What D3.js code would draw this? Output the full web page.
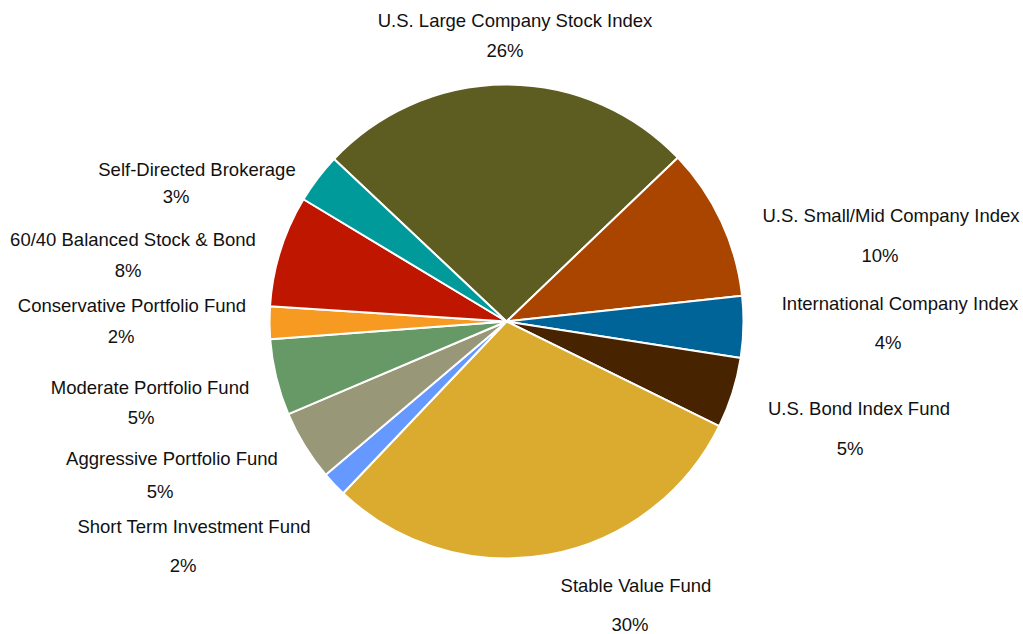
<!DOCTYPE html>
<html>
<head>
<meta charset="utf-8">
<script src="https://cdn.jsdelivr.net/npm/d3@7"></script>
<style>
  html, body { margin: 0; padding: 0; background: #fff; }
  svg { display: block; }
  text { font-family: "Liberation Sans", Arial, sans-serif; font-size: 18.5px; fill: #111; }
</style>
</head>
<body>
<svg id="chart" width="1023" height="634"></svg>
<script>
// Fund allocation, in percent, clockwise from the first slice
const funds = [
  "U.S. Large Company Stock Index",
  "U.S. Small/Mid Company Index",
  "International Company Index",
  "U.S. Bond Index Fund",
  "Stable Value Fund",
  "Short Term Investment Fund",
  "Aggressive Portfolio Fund",
  "Moderate Portfolio Fund",
  "Conservative Portfolio Fund",
  "60/40 Balanced Stock & Bond",
  "Self-Directed Brokerage"
];
const allocation = [25.8, 10.4, 4.2, 4.8, 29.8, 1.7, 4.8, 5.2, 2.2, 7.6, 3.4];
const fundColors = [
  "#5d5c21", "#aa4500", "#006498", "#472300", "#dbab2f",
  "#6699ff", "#989777", "#669966", "#f79a22", "#bf1600", "#009a9a"
];

// Label anchors: [name x, name baseline, percent x, percent baseline]
const labelLayout = [
  [515, 27, 505, 57],
  [891, 222, 880, 262],
  [900, 310, 888, 349],
  [859, 415, 850, 455],
  [636, 592, 630, 631],
  [194, 533, 183, 572],
  [172, 465, 160, 498],
  [150, 394, 141, 424],
  [132, 312, 121, 343],
  [133, 246, 128, 277],
  [197, 176, 176, 203]
];

const svg = d3.select("#chart");
const cx = 506.5, cy = 321.5, radius = 237;
const start = -46.7 * Math.PI / 180;

const total = d3.sum(allocation);
const pie = d3.pie().sort(null).value(d => d).startAngle(start).endAngle(start + 2 * Math.PI);
const arc = d3.arc().innerRadius(0).outerRadius(radius);
const color = d3.scaleOrdinal().domain(funds).range(fundColors);

const g = svg.append("g").attr("transform", `translate(${cx},${cy})`);
g.selectAll("path")
  .data(pie(allocation))
  .join("path")
  .attr("d", arc)
  .attr("fill", (d, i) => color(funds[i]))
  .attr("stroke", "#fff")
  .attr("stroke-width", 2)
  .attr("stroke-linejoin", "round");

const labels = svg.append("g").attr("text-anchor", "middle");
funds.forEach((name, i) => {
  const [nx, ny, px, py] = labelLayout[i];
  labels.append("text").attr("x", nx).attr("y", ny).text(name);
  labels.append("text").attr("x", px).attr("y", py)
    .text(Math.round(allocation[i] / total * 100) + "%");
});
</script>
</body>
</html>
